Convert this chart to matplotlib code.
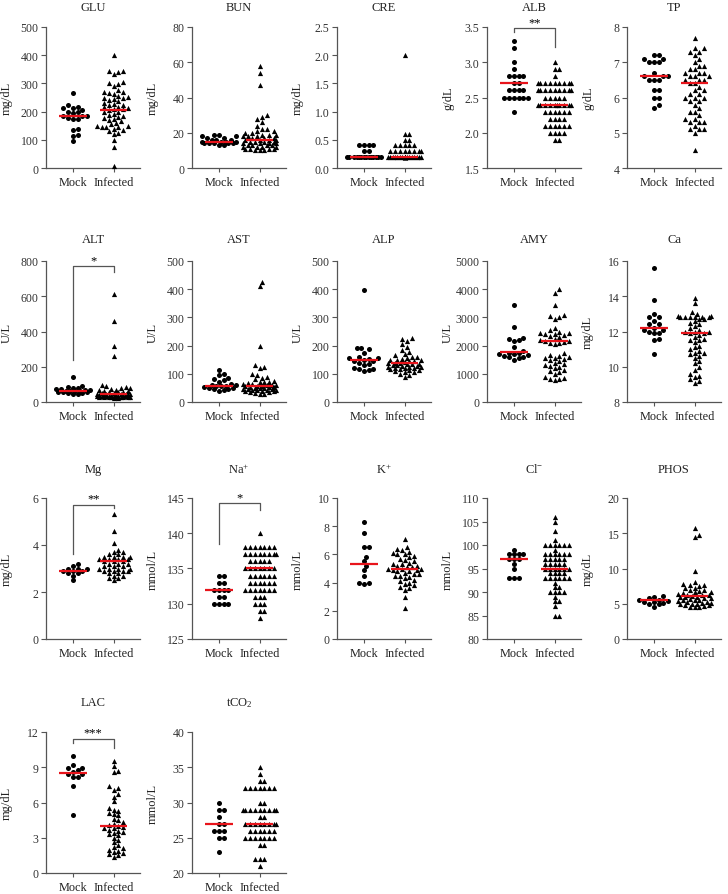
import matplotlib
matplotlib.use('Agg')
import matplotlib.pyplot as plt
import numpy as np

plt.rcParams['font.family'] = ['Liberation Serif', 'DejaVu Serif']
plt.rcParams['mathtext.fontset'] = 'custom'
plt.rcParams['mathtext.rm'] = 'Liberation Serif'
plt.rcParams['mathtext.it'] = 'Liberation Serif:italic'

groups = ['Mock', 'Infected']

# ---- values ----
glu_mock = [267, 225, 215, 213, 212, 205, 200, 198, 196, 186, 185, 184, 176, 174, 172, 138, 135, 118, 112, 95]
glu_inf = [400, 345, 343, 340, 335, 305, 300, 298, 290, 275, 270, 268, 265, 262, 255, 252, 250, 248, 245, 240,
           238, 232, 228, 225, 222, 218, 215, 212, 210, 208, 205, 200, 198, 192, 188, 185, 182, 178, 175, 170,
           165, 160, 155, 150, 148, 147, 146, 145, 140, 135, 130, 125, 120, 100, 75, 7]
bun_mock = [19, 19, 18, 18, 17, 17, 16, 16, 16, 15, 15, 15, 15, 14, 14, 14, 14, 14, 13, 13]
bun_inf = [58, 54, 47, 30, 29, 28, 26, 24, 22, 22, 21, 21, 20, 20, 19, 19, 19, 18, 18, 18, 17, 17, 17, 16, 16,
           16, 16, 15, 15, 15, 15, 14, 14, 14, 14, 13, 13, 13, 13, 12, 12, 12, 12, 11, 11, 11, 11, 10, 10, 10]
cre_mock = [0.4, 0.4, 0.4, 0.4, 0.3, 0.3, 0.2, 0.2, 0.2, 0.2, 0.2, 0.2, 0.2, 0.2, 0.2, 0.2, 0.2, 0.2, 0.2, 0.2]
cre_inf = [2.0, 0.6, 0.6, 0.5, 0.5, 0.4, 0.4, 0.4, 0.4, 0.4, 0.3, 0.3, 0.3, 0.3, 0.3, 0.3, 0.3, 0.3,
           0.2, 0.2, 0.2, 0.2, 0.2, 0.2, 0.2, 0.2, 0.2, 0.2, 0.2, 0.2, 0.2, 0.2, 0.2, 0.2, 0.2, 0.2, 0.2, 0.2,
           0.2, 0.2, 0.2, 0.2, 0.2, 0.2]
alb_mock = [3.3, 3.2, 3.0, 2.9, 2.8, 2.8, 2.8, 2.8, 2.7, 2.7, 2.6, 2.6, 2.6, 2.6, 2.5, 2.5, 2.5, 2.5, 2.5, 2.5, 2.3]
alb_inf = [3.0, 2.9, 2.9, 2.8] + [2.7] * 9 + [2.6] * 9 + [2.5] * 5 + [2.4] * 10 + [2.3] * 6 + [2.2] * 4 + \
          [2.1] * 6 + [2.0] * 4 + [1.9] * 2
tp_mock = [7.2, 7.2, 7.1, 7.1, 7.0, 7.0, 7.0, 6.7, 6.6, 6.6, 6.6, 6.5, 6.5, 6.5, 6.2, 6.2, 6.0, 6.0, 5.8, 5.7]
tp_inf = [7.7, 7.4, 7.4, 7.3, 7.3, 7.2, 7.1, 7.0, 6.9, 6.9, 6.8, 6.8, 6.7, 6.7, 6.7, 6.6, 6.6, 6.6, 6.5, 6.5,
          6.5, 6.4, 6.4, 6.3, 6.2, 6.2, 6.1, 6.1, 6.0, 6.0, 6.0, 5.9, 5.9, 5.8, 5.7, 5.6, 5.6, 5.5, 5.4, 5.4,
          5.3, 5.3, 5.3, 5.2, 5.1, 5.1, 5.1, 5.0, 4.5]
alt_mock = [140, 90, 85, 80, 78, 75, 72, 70, 68, 65, 63, 62, 60, 58, 56, 55, 52, 50, 48, 45]
alt_inf = [615, 460, 315, 260, 95, 90, 85, 80, 78, 75, 70, 68, 65, 60, 58, 55, 55, 52, 50, 48, 48, 46, 45, 44,
           42, 42, 40, 40, 38, 38, 36, 35, 35, 34, 33, 32, 32, 31, 30, 30, 30, 29, 28, 28, 27, 26, 25, 25]
ast_mock = [115, 100, 95, 85, 80, 78, 70, 65, 62, 60, 58, 55, 55, 52, 50, 48, 47, 45, 42, 40]
ast_inf = [425, 410, 198, 130, 125, 120, 100, 95, 90, 85, 80, 75, 72, 70, 70, 68, 65, 65, 62, 60, 60, 58, 57,
           55, 54, 53, 52, 50, 50, 48, 47, 46, 45, 44, 43, 42, 41, 40, 40, 38, 36, 35, 33, 30, 28]
alp_mock = [398, 192, 190, 188, 175, 160, 155, 155, 152, 148, 145, 145, 140, 135, 130, 120, 118, 117, 112, 110]
alp_inf = [228, 222, 215, 205, 195, 185, 178, 170, 165, 160, 158, 155, 152, 150, 150, 148, 145, 145, 142, 140,
           140, 138, 136, 135, 133, 130, 130, 128, 126, 125, 125, 124, 122, 120, 120, 118, 116, 115, 112, 110,
           108, 105, 100, 95, 90]
amy_mock = [3450, 2650, 2280, 2250, 2200, 2150, 1950, 1800, 1750, 1720, 1700, 1700, 1650, 1620, 1600, 1580,
            1560, 1500]
amy_inf = [4000, 3880, 3450, 3080, 3050, 3020, 2950, 2620, 2560, 2500, 2460, 2450, 2420, 2400, 2380, 2350,
           2300, 2250, 2200, 2180, 2150, 2120, 2100, 2080, 2050, 1720, 1680, 1640, 1600, 1570, 1550, 1520,
           1480, 1450, 1400, 1350, 1300, 1280, 1250, 1200, 1150, 1100, 1050, 1000, 900, 850, 820, 800, 780]
ca_mock = [15.6, 13.8, 13.0, 12.8, 12.8, 12.6, 12.4, 12.4, 12.2, 12.1, 12.1, 12.0, 11.9, 11.9, 11.6, 11.5, 10.7]
ca_inf = [13.9, 13.6, 13.1, 13.0, 12.9, 12.9, 12.8, 12.8, 12.8, 12.8, 12.8, 12.8, 12.7, 12.7, 12.6, 12.5, 12.4,
          12.3, 12.2, 12.1, 12.0, 12.0, 12.0, 11.9, 11.9, 11.8, 11.7, 11.6, 11.5, 11.5, 11.4, 11.2, 11.1, 11.0,
          10.9, 10.8, 10.8, 10.7, 10.6, 10.5, 10.3, 10.2, 10.0, 9.8, 9.6, 9.5, 9.4, 9.3, 9.2, 9.1]
mg_mock = [3.2, 3.1, 3.0, 3.0, 3.0, 2.9, 2.9, 2.9, 2.8, 2.8, 2.7, 2.5]
mg_inf = [5.3, 4.6, 4.1, 3.8, 3.7, 3.7, 3.6, 3.6, 3.5, 3.5, 3.5, 3.5, 3.4, 3.4, 3.4, 3.4, 3.3, 3.3, 3.3, 3.2,
          3.2, 3.2, 3.1, 3.1, 3.1, 3.0, 3.0, 3.0, 3.0, 2.9, 2.9, 2.9, 2.9, 2.8, 2.8, 2.7, 2.7, 2.6, 2.6, 2.5]
na_mock = [134, 134, 133, 133, 132, 132, 132, 132, 131, 131, 130, 130, 130, 130]
na_inf = [140] + [138] * 7 + [137] * 8 + [136] * 5 + [135] * 7 + [134] * 6 + [133] * 6 + [132] * 7 + \
         [131] * 3 + [130] * 3 + [129] * 2 + [128]
k_mock = [8.3, 7.5, 6.5, 6.5, 5.8, 5.5, 5.2, 4.9, 4.5, 4.0, 4.0, 3.9]
k_inf = [7.1, 6.5, 6.4, 6.3, 6.2, 6.1, 6.0, 6.0, 5.9, 5.8, 5.7, 5.6, 5.5, 5.4, 5.3, 5.3, 5.2, 5.2, 5.1, 5.1,
         5.0, 5.0, 5.0, 4.9, 4.9, 4.8, 4.8, 4.7, 4.6, 4.6, 4.5, 4.5, 4.4, 4.3, 4.2, 4.1, 4.0, 3.9, 3.8, 3.7,
         3.6, 3.5, 3.0, 2.2]
cl_mock = [99, 98, 98, 98, 98, 97, 97, 97, 96, 95, 93, 93, 93]
cl_inf = [106, 105, 103, 101] + [100] * 6 + [99] + [98] * 6 + [97] * 5 + [96] * 5 + [95] * 6 + [94] * 4 + \
         [93] * 6 + [92] + [91] * 2 + [90] * 4 + [89] + [88] * 2 + [87] + [85] * 2
phos_mock = [6.1, 6.0, 5.8, 5.6, 5.5, 5.4, 5.3, 5.2, 5.1, 5.0, 4.9, 4.6]
phos_inf = [15.8, 14.8, 14.5, 9.7, 8.1, 7.8, 7.7, 7.6, 7.5, 7.3, 7.2, 7.0, 6.9, 6.8, 6.7, 6.6, 6.5, 6.4, 6.3,
            6.2, 6.2, 6.1, 6.0, 6.0, 5.9, 5.8, 5.8, 5.7, 5.6, 5.5, 5.5, 5.4, 5.3, 5.2, 5.1, 5.1, 5.0, 5.0, 4.9,
            4.8, 4.8, 4.7, 4.6, 4.6, 4.5]
lac_mock = [10.0, 9.2, 8.9, 8.9, 8.8, 8.6, 8.4, 8.4, 8.2, 8.2, 7.4, 4.9]
lac_inf = [9.5, 9.1, 8.7, 8.6, 7.4, 7.2, 7.1, 6.7, 6.5, 6.1, 5.5, 5.4, 5.3, 5.1, 5.0, 4.9, 4.6, 4.5, 4.3, 4.2,
           4.1, 4.0, 3.9, 3.8, 3.8, 3.7, 3.6, 3.5, 3.4, 3.3, 3.2, 3.0, 2.8, 2.6, 2.4, 2.2, 2.1, 2.0, 1.9, 1.8,
           1.7, 1.6, 1.5, 1.4]
tco2_mock = [30, 29, 29, 28, 27, 27, 26, 26, 26, 25, 25, 23]
tco2_inf = [35, 34, 33, 33] + [32] * 7 + [30] * 2 + [29] * 9 + [28] * 2 + [27] * 8 + [26] * 6 + [25] * 7 + \
           [24] * 2 + [22] * 3 + [21]

# group centre lines (red) as drawn in the figure
glu_mid = [185, 207]
bun_mid = [15, 16]
cre_mid = [0.2, 0.2]
alb_mid = [2.7, 2.4]
tp_mid = [6.6, 6.4]
alt_mid = [62, 45]
ast_mid = [58, 57]
alp_mid = [150, 137]
amy_mid = [1760, 2150]
ca_mid = [12.2, 11.9]
mg_mid = [2.9, 3.3]
na_mid = [132, 135]
k_mid = [5.3, 5.0]
cl_mid = [97, 95]
phos_mid = [5.5, 6.1]
lac_mid = [8.5, 4.0]
tco2_mid = [27, 27]

# title, unit, mock, infected, centre lines, y range, tick step, tick format
panels = [
    ('GLU', 'mg/dL', glu_mock, glu_inf, glu_mid, (0, 500), 100, '%d'),
    ('BUN', 'mg/dL', bun_mock, bun_inf, bun_mid, (0, 80), 20, '%d'),
    ('CRE', 'mg/dL', cre_mock, cre_inf, cre_mid, (0, 2.5), 0.5, '%.1f'),
    ('ALB', 'g/dL', alb_mock, alb_inf, alb_mid, (1.5, 3.5), 0.5, '%.1f'),
    ('TP', 'g/dL', tp_mock, tp_inf, tp_mid, (4, 8), 1, '%d'),
    ('ALT', 'U/L', alt_mock, alt_inf, alt_mid, (0, 800), 200, '%d'),
    ('AST', 'U/L', ast_mock, ast_inf, ast_mid, (0, 500), 100, '%d'),
    ('ALP', 'U/L', alp_mock, alp_inf, alp_mid, (0, 500), 100, '%d'),
    ('AMY', 'U/L', amy_mock, amy_inf, amy_mid, (0, 5000), 1000, '%d'),
    ('Ca', 'mg/dL', ca_mock, ca_inf, ca_mid, (8, 16), 2, '%d'),
    ('Mg', 'mg/dL', mg_mock, mg_inf, mg_mid, (0, 6), 2, '%d'),
    ('Na$^{+}$', 'mmol/L', na_mock, na_inf, na_mid, (125, 145), 5, '%d'),
    ('K$^{+}$', 'mmol/L', k_mock, k_inf, k_mid, (0, 10), 2, '%d'),
    ('Cl$^{-}$', 'mmol/L', cl_mock, cl_inf, cl_mid, (80, 110), 5, '%d'),
    ('PHOS', 'mg/dL', phos_mock, phos_inf, phos_mid, (0, 20), 5, '%d'),
    ('LAC', 'mg/dL', lac_mock, lac_inf, lac_mid, (0, 12), 3, '%d'),
    ('tCO$_2$', 'mmol/L', tco2_mock, tco2_inf, tco2_mid, (20, 40), 5, '%d'),
]

# significance brackets: stars, bracket top, left leg end, right leg end
brackets = {
    'ALB': ('**', 3.485, 3.43, 3.21),
    'ALT': ('*', 771, 241, 738),
    'Mg': ('**', 5.72, 3.6, 5.58),
    'Na$^{+}$': ('*', 144.3, 138.5, 143.35),
    'LAC': ('***', 11.44, 11.05, 10.6),
}

W, H = 728, 895
col_left = [46, 192, 337, 487, 627]
row_top = [28, 262, 499, 733]
title_y = [8, 240, 470, 703]
ax_w, ax_h = 94, 141
xlim = (-0.66, 1.65)
dot = 4.8  # marker diameter, px


def swarm(vals, ylim, maxw=0.42):
    # simple beeswarm in pixel space
    ux = ax_w / (xlim[1] - xlim[0])
    uy = ax_h / (ylim[1] - ylim[0])
    vals = np.asarray(vals, float)
    step = dot / 2
    n = int(maxw * ux / step)
    cands = sorted([k * step for k in range(-n, n + 1)], key=lambda c: (abs(c), c < 0))
    placed = []
    offs = np.zeros(len(vals))
    for i in np.argsort(vals, kind='stable'):
        y = vals[i] * uy
        best, bestd = 0.0, -1.0
        for c in cands:
            md = min([np.hypot(c - px, y - py) for px, py in placed] + [1e9])
            if md >= dot * 0.97:
                best = c
                break
            if md > bestd:
                bestd, best = md, c
        placed.append((best, y))
        offs[i] = best / ux
    return offs


fig = plt.figure(figsize=(W / 100, H / 100), dpi=100)
for k, (title, unit, mock, inf, mid, ylim, step, fmt) in enumerate(panels):
    r, c = divmod(k, 5)
    ax = fig.add_axes([col_left[c] / W, 1 - (row_top[r] + ax_h) / H, ax_w / W, ax_h / H])
    for g, (vals, mk, s) in enumerate([(mock, 'o', 13), (inf, '^', 14)]):
        xs = g + swarm(vals, ylim)
        ax.scatter(xs, vals, marker=mk, s=s, color='black', linewidths=0, zorder=3, clip_on=False)
        ax.plot([g - 0.34, g + 0.34], [mid[g], mid[g]], color='#e8141b', lw=1.6, zorder=4,
                solid_capstyle='butt')
    ax.set_xlim(*xlim)
    ax.set_ylim(*ylim)
    ticks = np.arange(ylim[0], ylim[1] + step / 2, step)
    ax.set_yticks(ticks)
    ax.set_yticklabels([fmt % t for t in ticks])
    ax.set_xticks([0, 1])
    ax.set_xticklabels(groups, fontsize=8.8)
    ax.tick_params(axis='y', labelsize=8.5, length=3.5, width=0.8, color='#555555', pad=2,
                   labelcolor='#333333')
    ax.tick_params(axis='x', length=3, width=0.8, color='#555555', pad=3, labelcolor='#222222')
    for sp in ['top', 'right']:
        ax.spines[sp].set_visible(False)
    for sp in ['left', 'bottom']:
        ax.spines[sp].set_color('#555555')
        ax.spines[sp].set_linewidth(0.9)
    ax.set_ylabel(unit, fontsize=9, color='#222222')
    ax.yaxis.set_label_coords(-0.35, 0.5)
    fig.text((col_left[c] + ax_w / 2) / W, 1 - title_y[r] / H, title, ha='center', va='center',
             fontsize=9, color='#222222')
    if title in brackets:
        stars, top, yl, yr = brackets[title]
        ax.plot([0, 0, 1, 1], [yl, top, top, yr], color='#555555', lw=0.9, clip_on=False)
        ax.text(0.5, top, stars, ha='center', va='bottom', fontsize=9, clip_on=False)

fig.savefig('out.png', dpi=100)
